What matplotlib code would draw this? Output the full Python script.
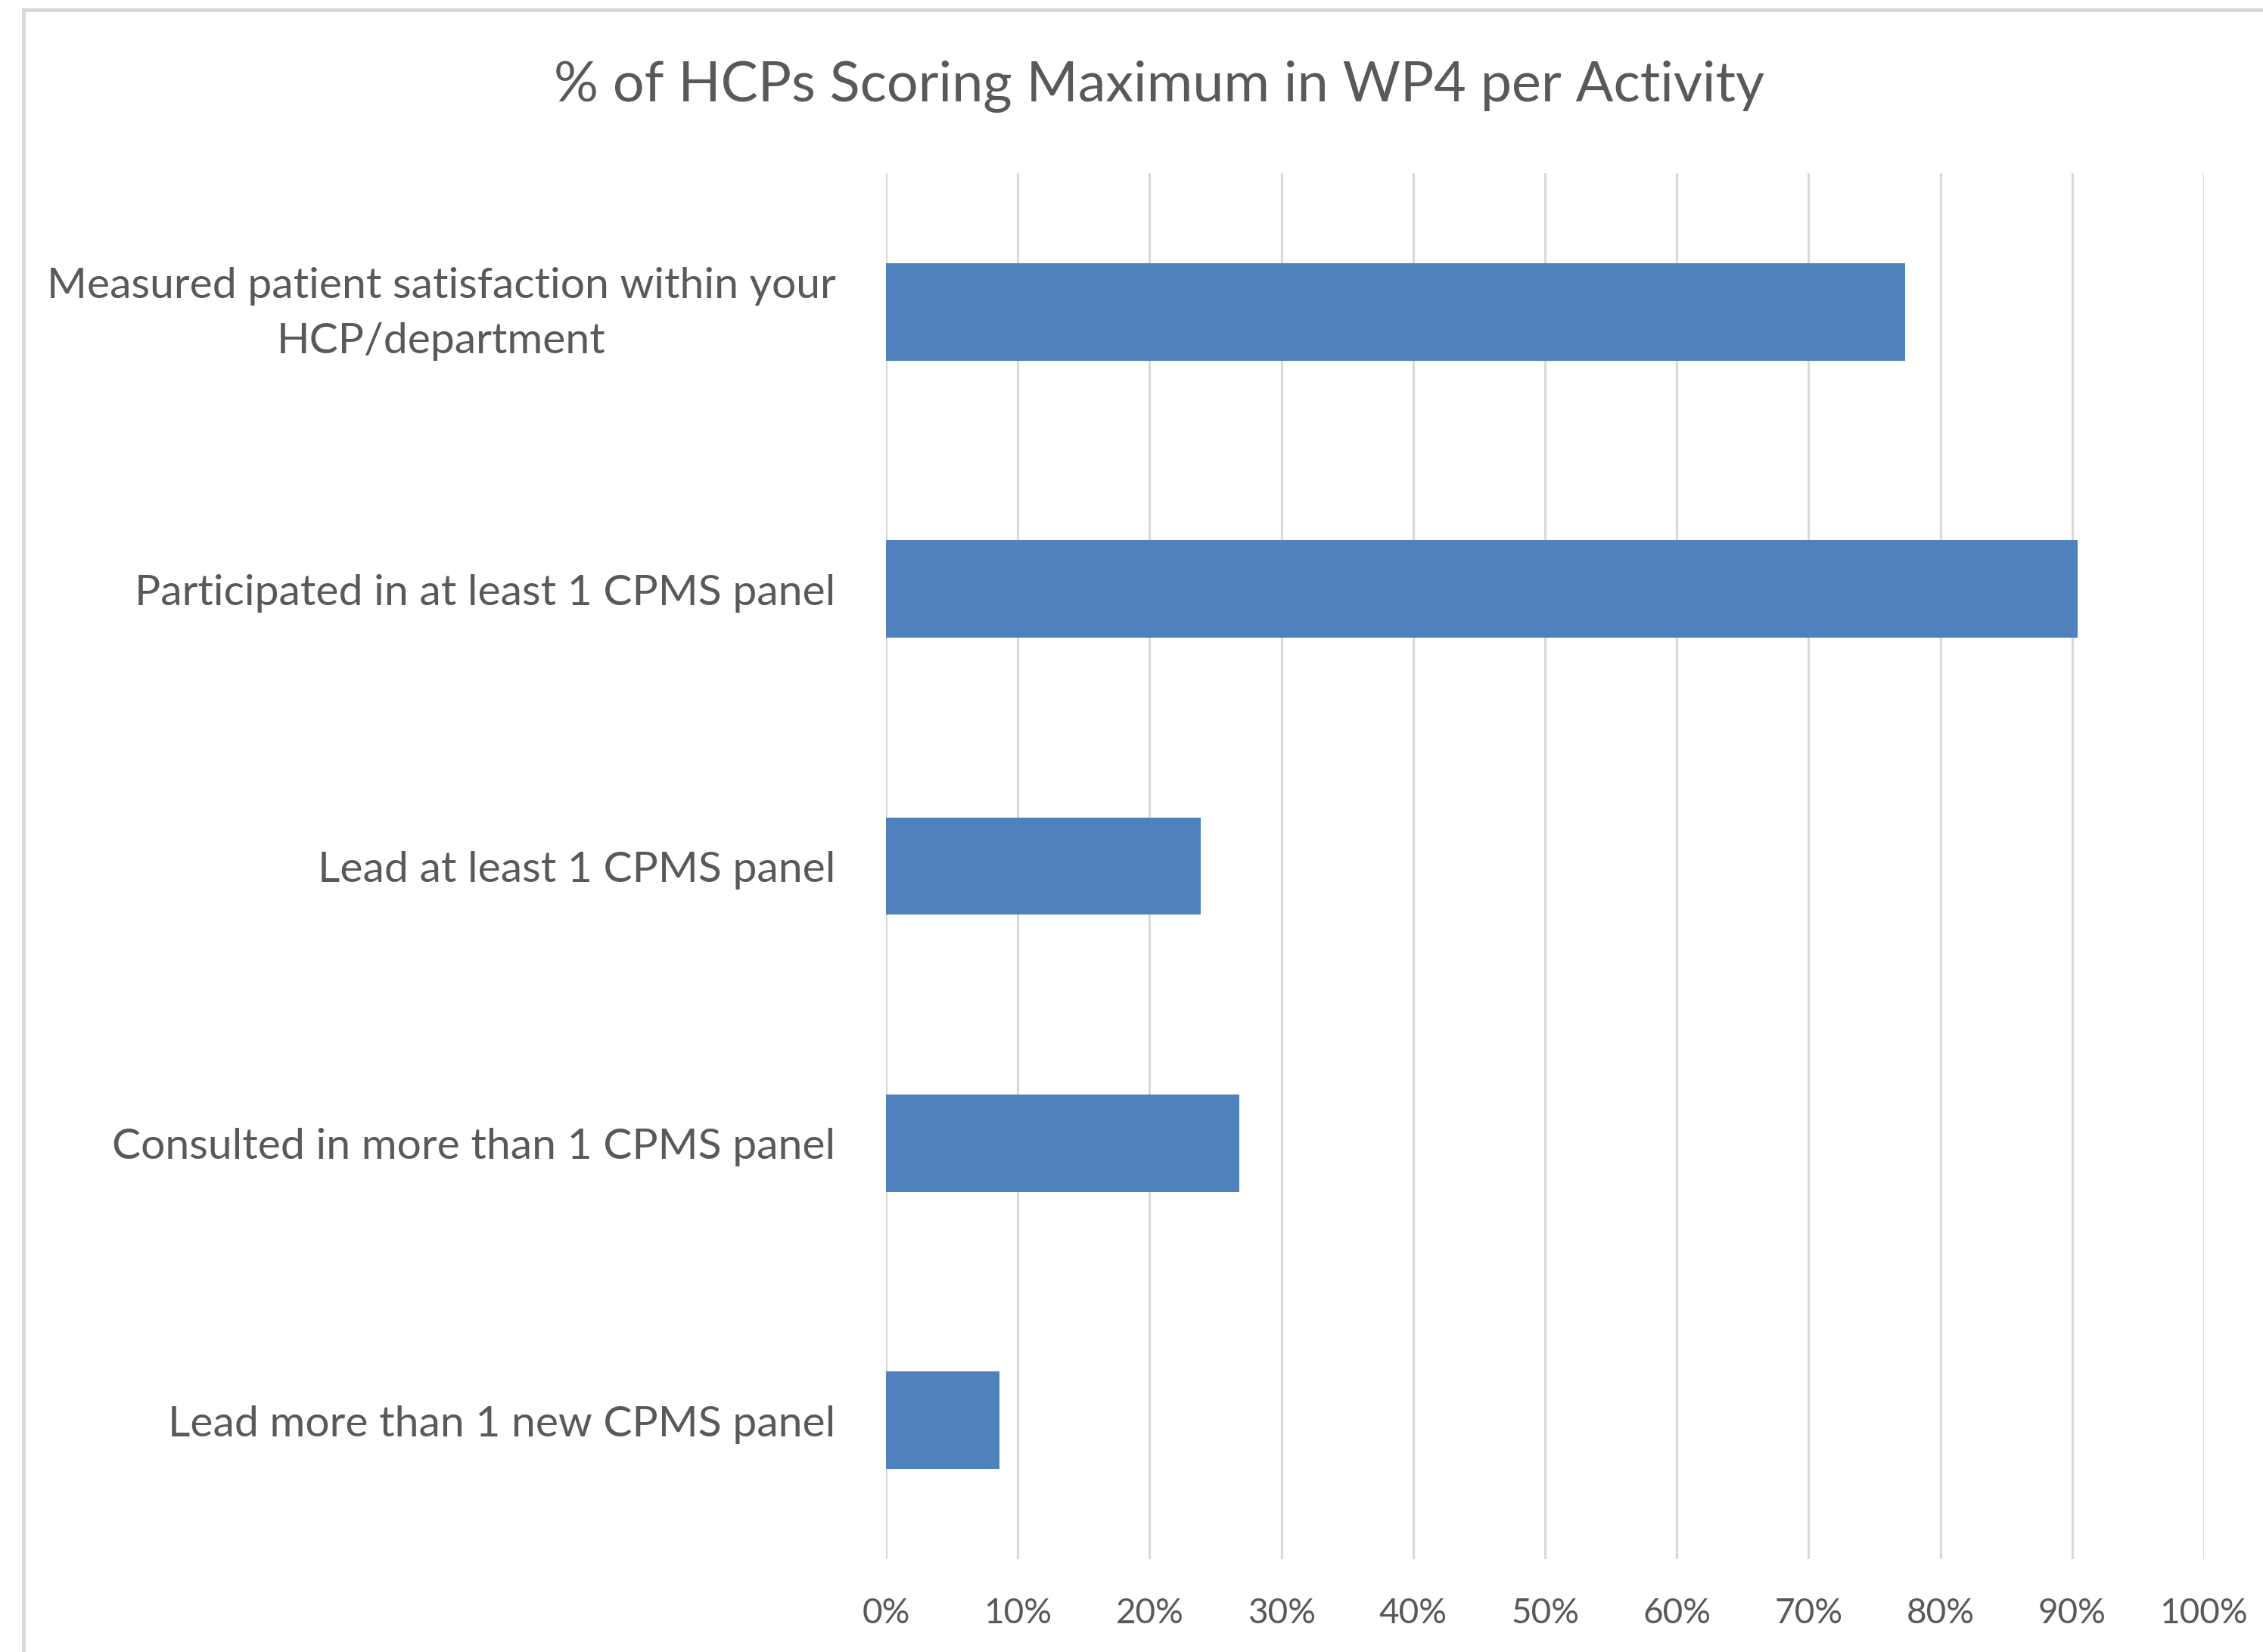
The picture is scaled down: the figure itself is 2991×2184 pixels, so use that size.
import matplotlib
matplotlib.use("Agg")
import matplotlib.pyplot as plt
import matplotlib.transforms as mtransforms
from matplotlib.patches import Rectangle

categories = [
    "Measured patient satisfaction within your\nHCP/department",
    "Participated in at least 1 CPMS panel",
    "Lead at least 1 CPMS panel",
    "Consulted in more than 1 CPMS panel",
    "Lead more than 1 new CPMS panel",
]
values = [77.3, 90.4, 23.9, 26.8, 8.6]
xticks = [0, 10, 20, 30, 40, 50, 60, 70, 80, 90, 100]
xtick_labels = [f"{t}%" for t in xticks]
title = "% of HCPs Scoring Maximum in WP4 per Activity"

FONT = ["Lato", "DejaVu Sans"]
TEXT_COLOR = "#595959"
GRID_COLOR = "#d9d9d9"
BAR_COLOR = "#4f81bd"

W, H, DPI = 2991, 2184, 100
fig = plt.figure(figsize=(W / DPI, H / DPI), dpi=DPI)
fig.patch.set_facecolor("white")

# chart-area border (runs off right and bottom edges)
fig.add_artist(Rectangle((31 / W, -0.1), 1.2, 1 - 13 / H + 0.1,
                         transform=fig.transFigure, fill=False,
                         edgecolor=GRID_COLOR, linewidth=3.6))

ax = fig.add_axes([1171 / W, 1 - 2061 / H, (2913 - 1171) / W, (2061 - 229) / H])
ypos = list(range(len(categories)))
ax.barh(ypos, values, height=0.352, color=BAR_COLOR, zorder=3)
ax.set_xlim(0, 100)
ax.set_ylim(len(categories) - 0.5, -0.5)

ax.set_xticks(xticks)
ax.set_xticklabels(xtick_labels)
ax.set_yticks(ypos)
ax.set_yticklabels([])
for lab in ax.get_xticklabels():
    lab.set_family(FONT)
    lab.set_fontsize(33)
    lab.set_color(TEXT_COLOR)

# category labels, right-aligned left of the plot area
base = mtransforms.blended_transform_factory(ax.transAxes, ax.transData)
for y, cat in zip(ypos, categories):
    dy = -0.03 if "\n" in cat else -0.055
    tr = base + mtransforms.ScaledTranslation(-48 / 72, dy, fig.dpi_scale_trans)
    ax.text(0, y, cat, transform=tr, ha="right", va="center",
            multialignment="center", fontsize=41, color=TEXT_COLOR,
            family=FONT, linespacing=1.55)

ax.tick_params(axis="y", length=0)
ax.tick_params(axis="x", length=0, pad=37)
ax.grid(axis="x", color=GRID_COLOR, linewidth=2.3, zorder=0)
ax.grid(axis="y", visible=False)
for s in ax.spines.values():
    s.set_visible(False)
ax.set_facecolor("none")

fig.text(1532 / W, 1 - 114 / H, title, ha="center", va="center",
         fontsize=53, color=TEXT_COLOR, family=FONT)

fig.savefig("out.png", dpi=DPI, facecolor="white")
